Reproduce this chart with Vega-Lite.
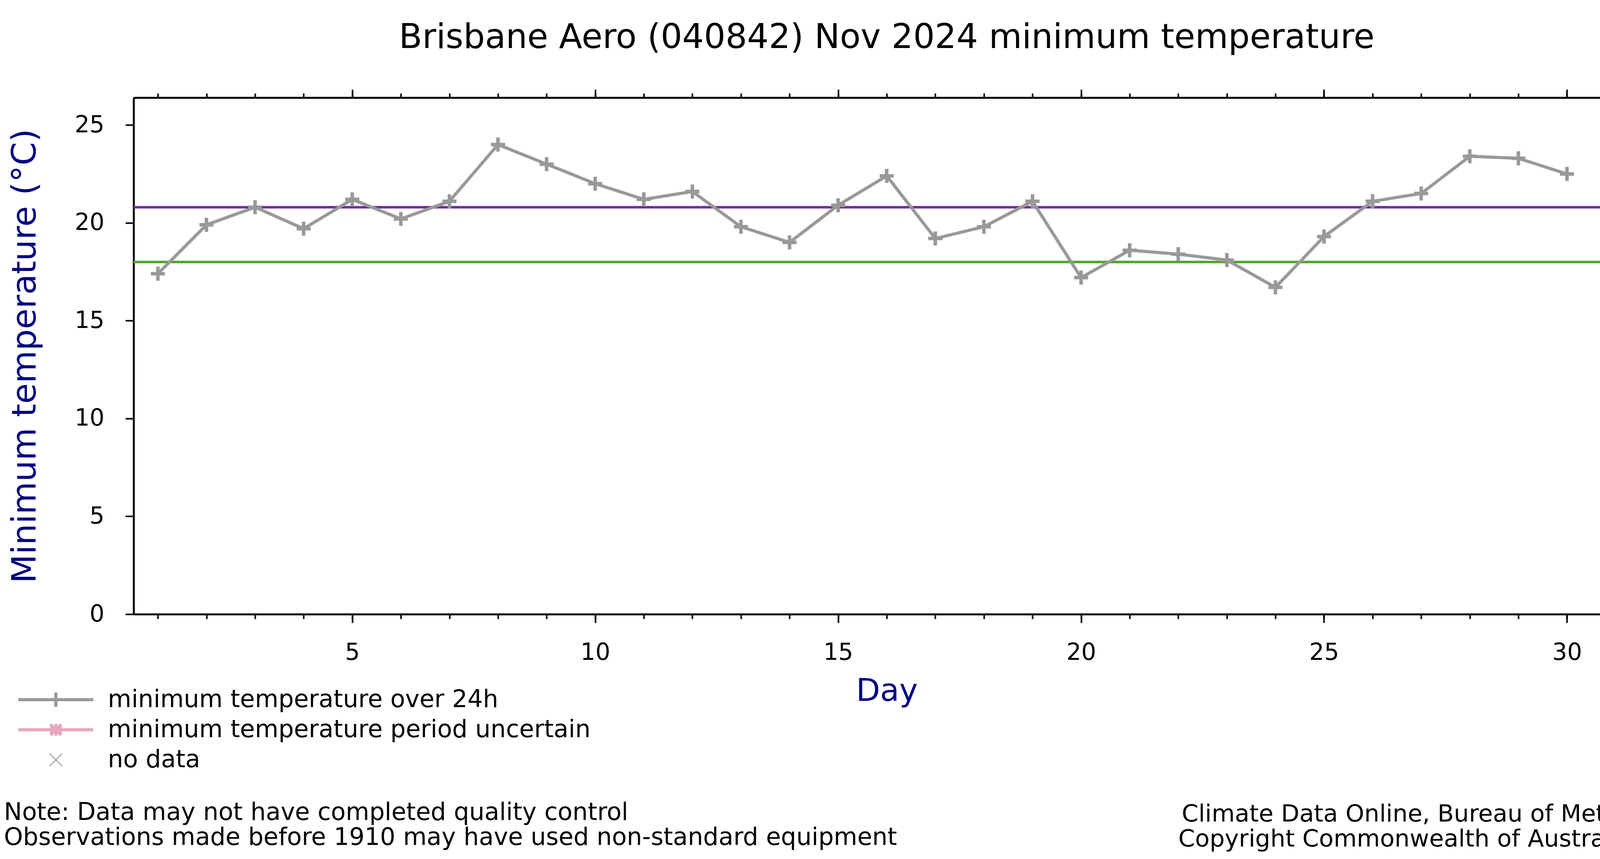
{
  "$schema": "https://vega.github.io/schema/vega-lite/v6.json",
  "width": 3856,
  "height": 1323,
  "autosize": {"type": "none"},
  "padding": {"left": 342, "top": 250, "right": 202, "bottom": 627},
  "background": "white",
  "config": {"view": {"stroke": null}, "font": "DejaVu Sans"},
  "title": {
    "text": "Brisbane Aero (040842) Nov 2024 minimum temperature",
    "font": "DejaVu Sans",
    "fontSize": 87,
    "fontWeight": "normal",
    "color": "black",
    "anchor": "middle",
    "frame": "group",
    "offset": 86
  },
  "datasets": {
    "obs": [
      {"day": 1, "temp": 17.4, "series": "minimum temperature over 24h"},
      {"day": 2, "temp": 19.9, "series": "minimum temperature over 24h"},
      {"day": 3, "temp": 20.8, "series": "minimum temperature over 24h"},
      {"day": 4, "temp": 19.7, "series": "minimum temperature over 24h"},
      {"day": 5, "temp": 21.2, "series": "minimum temperature over 24h"},
      {"day": 6, "temp": 20.2, "series": "minimum temperature over 24h"},
      {"day": 7, "temp": 21.1, "series": "minimum temperature over 24h"},
      {"day": 8, "temp": 24.0, "series": "minimum temperature over 24h"},
      {"day": 9, "temp": 23.0, "series": "minimum temperature over 24h"},
      {"day": 10, "temp": 22.0, "series": "minimum temperature over 24h"},
      {"day": 11, "temp": 21.2, "series": "minimum temperature over 24h"},
      {"day": 12, "temp": 21.6, "series": "minimum temperature over 24h"},
      {"day": 13, "temp": 19.8, "series": "minimum temperature over 24h"},
      {"day": 14, "temp": 19.0, "series": "minimum temperature over 24h"},
      {"day": 15, "temp": 20.9, "series": "minimum temperature over 24h"},
      {"day": 16, "temp": 22.4, "series": "minimum temperature over 24h"},
      {"day": 17, "temp": 19.2, "series": "minimum temperature over 24h"},
      {"day": 18, "temp": 19.8, "series": "minimum temperature over 24h"},
      {"day": 19, "temp": 21.1, "series": "minimum temperature over 24h"},
      {"day": 20, "temp": 17.2, "series": "minimum temperature over 24h"},
      {"day": 21, "temp": 18.6, "series": "minimum temperature over 24h"},
      {"day": 22, "temp": 18.4, "series": "minimum temperature over 24h"},
      {"day": 23, "temp": 18.1, "series": "minimum temperature over 24h"},
      {"day": 24, "temp": 16.7, "series": "minimum temperature over 24h"},
      {"day": 25, "temp": 19.3, "series": "minimum temperature over 24h"},
      {"day": 26, "temp": 21.1, "series": "minimum temperature over 24h"},
      {"day": 27, "temp": 21.5, "series": "minimum temperature over 24h"},
      {"day": 28, "temp": 23.4, "series": "minimum temperature over 24h"},
      {"day": 29, "temp": 23.3, "series": "minimum temperature over 24h"},
      {"day": 30, "temp": 22.5, "series": "minimum temperature over 24h"}
    ],
    "refs": [
      {"ref": "upper reference", "temp": 20.8},
      {"ref": "lower reference", "temp": 18.0}
    ]
  },
  "layer": [
    {
      "data": {"name": "refs"},
      "mark": {"type": "rule", "strokeWidth": 6.5},
      "encoding": {
        "y": {"field": "temp", "type": "quantitative", "scale": {"domain": [0, 26.4], "nice": false}, "axis": null},
        "stroke": {
          "field": "ref",
          "type": "nominal",
          "scale": {"domain": ["upper reference", "lower reference"], "range": ["#7030a0", "#4ea72e"]},
          "legend": null
        }
      }
    },
    {
      "data": {"name": "obs"},
      "mark": {"type": "line", "color": "#999999", "strokeWidth": 8},
      "encoding": {
        "x": {
          "field": "day",
          "type": "quantitative",
          "scale": {"domain": [0.5, 31.5], "nice": false, "zero": false},
          "axis": {
            "orient": "bottom",
            "values": [5, 10, 15, 20, 25, 30],
            "tickSize": 22,
            "tickWidth": 4,
            "tickColor": "black",
            "domainColor": "black",
            "domainWidth": 5,
            "labelFont": "DejaVu Sans",
            "labelFontSize": 60,
            "labelColor": "black",
            "labelPadding": 47,
            "labelOverlap": false,
            "labelFlush": false,
            "grid": false,
            "title": "Day",
            "titleFont": "DejaVu Sans",
            "titleFontSize": 80,
            "titleFontWeight": "normal",
            "titleColor": "#000080",
            "titlePadding": 30
          }
        },
        "y": {
          "field": "temp",
          "type": "quantitative",
          "scale": {"domain": [0, 26.4], "nice": false},
          "axis": {
            "orient": "left",
            "values": [0, 5, 10, 15, 20, 25],
            "tickSize": 21,
            "tickWidth": 4,
            "tickColor": "black",
            "domainColor": "black",
            "domainWidth": 5,
            "labelFont": "DejaVu Sans",
            "labelFontSize": 60,
            "labelColor": "black",
            "labelPadding": 54,
            "grid": false,
            "title": "Minimum temperature (°C)",
            "titleFont": "DejaVu Sans",
            "titleFontSize": 86,
            "titleFontWeight": "normal",
            "titleColor": "#000080",
            "titlePadding": 82
          }
        }
      }
    },
    {
      "data": {"name": "obs"},
      "mark": {"type": "point", "shape": "M-1,0H1M0,-1V1", "size": 1296, "strokeWidth": 9, "color": "#999999", "filled": false, "opacity": 1},
      "encoding": {
        "x": {
          "field": "day",
          "type": "quantitative",
          "scale": {"domain": [0.5, 31.5], "nice": false, "zero": false},
          "axis": {
            "orient": "bottom",
            "values": [1,2,3,4,5,6,7,8,9,10,11,12,13,14,15,16,17,18,19,20,21,22,23,24,25,26,27,28,29,30,31],
            "labels": false,
            "domain": false,
            "tickSize": 12,
            "tickWidth": 4,
            "tickColor": "black",
            "grid": false,
            "title": null
          }
        },
        "y": {
          "field": "temp",
          "type": "quantitative",
          "scale": {"domain": [0, 26.4], "nice": false},
          "axis": {
            "orient": "right",
            "values": [0, 5, 10, 15, 20, 25],
            "labels": false,
            "tickSize": 19,
            "tickWidth": 4,
            "tickColor": "black",
            "domainColor": "black",
            "domainWidth": 5,
            "grid": false,
            "title": ["Climate Data Online, Bureau of Meteorology", "Copyright Commonwealth of Australia, 2024"],
            "titleAngle": 0,
            "titleAlign": "right",
            "titleBaseline": "alphabetic",
            "titleX": 176,
            "titleY": 1853,
            "titleFont": "DejaVu Sans",
            "titleFontSize": 61,
            "titleFontWeight": "normal",
            "titleColor": "black",
            "titleLineHeight": 64
          }
        }
      }
    },
    {
      "data": {"name": "obs"},
      "transform": [{"filter": "false"}],
      "mark": {"type": "point", "filled": false, "opacity": 1},
      "encoding": {
        "x": {
          "field": "day",
          "type": "quantitative",
          "scale": {"domain": [0.5, 31.5], "nice": false, "zero": false},
          "axis": {
            "orient": "top",
            "values": [5, 10, 15, 20, 25, 30],
            "labels": false,
            "tickSize": 21,
            "tickWidth": 4,
            "tickColor": "black",
            "domainColor": "black",
            "domainWidth": 5,
            "grid": false,
            "title": null
          }
        },
        "stroke": {
          "field": "series",
          "type": "nominal",
          "scale": {"domain": ["minimum temperature over 24h"], "range": ["#999999"]},
          "legend": {
            "orient": "none",
            "legendX": -332,
            "legendY": 1511,
            "direction": "vertical",
            "title": null,
            "labelFont": "DejaVu Sans",
            "labelFontSize": 62,
            "labelColor": "black",
            "labelLimit": 4000,
            "labelOffset": 102,
            "symbolType": "M-3.84,0H3.84M0,-0.74V0.74",
            "symbolSize": 2500,
            "symbolStrokeWidth": 8,
            "symbolOffset": 102,
            "symbolOpacity": 1,
            "padding": 0
          }
        }
      }
    },
    {
      "data": {"name": "obs"},
      "transform": [{"filter": "false"}],
      "mark": {"type": "point", "filled": false, "opacity": 1},
      "encoding": {
        "x": {
          "field": "day",
          "type": "quantitative",
          "scale": {"domain": [0.5, 31.5], "nice": false, "zero": false},
          "axis": {
            "orient": "top",
            "values": [1,2,3,4,5,6,7,8,9,10,11,12,13,14,15,16,17,18,19,20,21,22,23,24,25,26,27,28,29,30,31],
            "labels": false,
            "domain": false,
            "tickSize": 11,
            "tickWidth": 4,
            "tickColor": "black",
            "grid": false,
            "title": null
          }
        },
        "stroke": {
          "field": "series",
          "type": "nominal",
          "scale": {"domain": ["minimum temperature period uncertain"], "range": ["#e8a8bc"]},
          "legend": {
            "orient": "none",
            "legendX": -332,
            "legendY": 1588,
            "direction": "vertical",
            "title": null,
            "labelFont": "DejaVu Sans",
            "labelFontSize": 62,
            "labelColor": "black",
            "labelLimit": 4000,
            "labelOffset": 102,
            "symbolType": "M-3.84,0H3.84M0,-0.6V0.6M-0.55,-0.55L0.55,0.55M-0.55,0.55L0.55,-0.55M-0.6,-0.2H0.6M-0.6,0.2H0.6",
            "symbolSize": 2500,
            "symbolStrokeWidth": 8,
            "symbolOffset": 102,
            "symbolOpacity": 1,
            "padding": 0
          }
        }
      }
    },
    {
      "data": {"name": "obs"},
      "transform": [{"filter": "false"}],
      "mark": {"type": "point", "filled": false, "opacity": 1},
      "encoding": {
        "stroke": {
          "field": "series",
          "type": "nominal",
          "scale": {"domain": ["no data"], "range": ["#a0a0a0"]},
          "legend": {
            "orient": "none",
            "legendX": -332,
            "legendY": 1665,
            "direction": "vertical",
            "title": ["Note: Data may not have completed quality control", "Observations made before 1910 may have used non-standard equipment"],
            "titleOrient": "bottom",
            "titleAnchor": "start",
            "titleFont": "DejaVu Sans",
            "titleFontSize": 62,
            "titleFontWeight": "normal",
            "titleColor": "black",
            "titleLimit": 4000,
            "titleLineHeight": 64,
            "titlePadding": 74,
            "labelFont": "DejaVu Sans",
            "labelFontSize": 62,
            "labelColor": "black",
            "labelLimit": 4000,
            "labelOffset": 102,
            "symbolType": "M-0.64,-0.64L0.64,0.64M-0.64,0.64L0.64,-0.64",
            "symbolSize": 2500,
            "symbolStrokeWidth": 2.5,
            "symbolOffset": 102,
            "symbolOpacity": 1,
            "padding": 0
          }
        }
      }
    }
  ],
  "resolve": {
    "axis": {"x": "independent", "y": "independent"},
    "scale": {"stroke": "independent"},
    "legend": {"stroke": "independent"}
  }
}
